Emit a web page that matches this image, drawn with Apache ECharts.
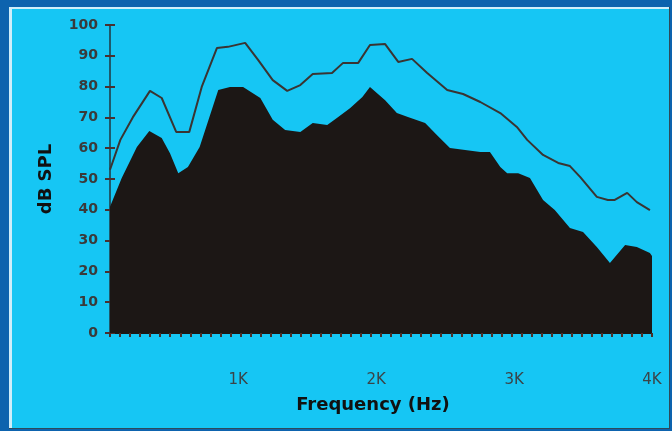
<!DOCTYPE html>
<html>
<head>
<meta charset="utf-8">
<script src="https://cdn.jsdelivr.net/npm/echarts@6/dist/echarts.min.js"></script>
<style>
  html, body { margin: 0; padding: 0; background: #0d63ae; }
  #chart { width: 672px; height: 431px; }
</style>
</head>
<body>
<div id="chart"></div>
<script>
// Frequency (Hz) and level (dB SPL)
const upperFreq = [70, 145, 235, 360, 445, 550, 645, 735, 845, 925, 1050, 1145, 1250, 1355, 1450, 1540, 1680, 1760, 1870, 1955, 2065, 2160, 2260, 2370, 2515, 2630, 2755, 2900, 3020, 3095, 3210, 3320, 3405, 3480, 3600, 3680, 3730, 3820, 3890, 3985];
const upperLevel = [53, 62.7, 70, 78.6, 76.3, 65.3, 65.3, 79.9, 92.5, 92.9, 94.2, 88.6, 82.1, 78.6, 80.5, 84.1, 84.4, 87.7, 87.7, 93.5, 93.8, 88, 89, 84.4, 78.9, 77.6, 75, 71.4, 66.9, 62.7, 57.8, 55.2, 54.2, 50.6, 44.2, 43.2, 43.2, 45.5, 42.5, 39.9];

const lowerFreq = [70, 155, 265, 355, 445, 505, 565, 635, 720, 855, 940, 1035, 1160, 1250, 1340, 1450, 1540, 1645, 1715, 1810, 1900, 1955, 2065, 2150, 2230, 2355, 2440, 2535, 2755, 2825, 2900, 2950, 3030, 3115, 3210, 3295, 3405, 3500, 3600, 3695, 3805, 3890, 3985, 4000];
const lowerLevel = [41, 50.3, 60.4, 65.6, 63.3, 58.4, 51.9, 53.9, 60.4, 78.9, 79.9, 79.9, 76.3, 69.2, 65.9, 65.3, 68.2, 67.5, 69.8, 73, 76.6, 79.9, 75.6, 71.4, 70.1, 68.2, 64.3, 60.1, 58.8, 58.8, 53.9, 51.9, 51.9, 50.3, 43.2, 39.9, 34.1, 32.8, 27.9, 22.7, 28.6, 27.9, 26, 25];

const xLabelValues = [1000, 2000, 3000, 4000];
const xMin = 70, xMax = 4000;
const yMin = 0, yMax = 100, yStep = 10;
const minorTickCount = 54;

const zip = (a, b) => a.map((v, i) => [v, b[i]]);

const chart = echarts.init(document.getElementById('chart'), null, { renderer: 'canvas' });
const BLUE = '#0d63ae';
const CYAN = '#16c6f4';
chart.setOption({
  backgroundColor: CYAN,
  animation: false,
  graphic: [
    { type: 'rect', shape: { x: 0, y: 0, width: 672, height: 7 }, style: { fill: BLUE } },
    { type: 'rect', shape: { x: 0, y: 0, width: 9, height: 431 }, style: { fill: BLUE } },
    { type: 'rect', shape: { x: 670, y: 0, width: 2, height: 431 }, style: { fill: BLUE } },
    { type: 'rect', shape: { x: 0, y: 429, width: 672, height: 2 }, style: { fill: BLUE } },
    { type: 'rect', shape: { x: 9, y: 7, width: 661, height: 2 }, style: { fill: '#cfeefa' } },
    { type: 'rect', shape: { x: 9, y: 7, width: 3, height: 422 }, style: { fill: '#cfeefa' } },
    { type: 'rect', shape: { x: 669, y: 7, width: 1, height: 422 }, style: { fill: '#2d4a5a' } },
    { type: 'rect', shape: { x: 9, y: 428, width: 661, height: 1 }, style: { fill: '#2d4a5a' } }
  ],
  grid: { left: 110, right: 20, top: 25, bottom: 98 },
  xAxis: [
    {
      type: 'value',
      min: xMin,
      max: xMax,
      name: 'Frequency (Hz)',
      nameLocation: 'middle',
      nameGap: 63,
      nameTextStyle: { fontFamily: 'DejaVu Sans', fontWeight: 'bold', fontSize: 18, color: '#111', padding: [0, 16, 0, 0] },
      axisLine: { show: true, onZero: false, lineStyle: { color: '#2a2a2a', width: 1 } },
      axisTick: { show: false },
      axisLabel: {
        customValues: xLabelValues,
        formatter: v => (v / 1000) + 'K',
        margin: 40,
        fontFamily: 'DejaVu Sans',
        fontSize: 15,
        color: '#3a4448'
      },
      splitLine: { show: false }
    },
    {
      type: 'value',
      position: 'bottom',
      offset: 0,
      min: 0,
      max: minorTickCount,
      interval: 1,
      axisLine: { show: true, onZero: false, lineStyle: { color: '#1c1715', width: 1 } },
      axisTick: { show: true, length: 4, lineStyle: { color: '#4a2f28', width: 2 } },
      axisLabel: { show: false },
      splitLine: { show: false }
    }
  ],
  yAxis: [
    {
      type: 'value',
      min: yMin, max: yMax, interval: yStep,
      name: 'dB SPL',
      nameLocation: 'middle',
      nameRotate: 90,
      nameGap: 55,
      nameTextStyle: { fontFamily: 'DejaVu Sans', fontWeight: 'bold', fontSize: 18, color: '#111' },
      axisLine: { show: true, lineStyle: { color: '#1d5a6c', width: 2 } },
      axisTick: { show: true, inside: false, length: 5, lineStyle: { color: '#4a3030', width: 2 } },
      axisLabel: { margin: 12, fontFamily: 'DejaVu Sans', fontWeight: 'bold', fontSize: 14, color: '#3a3a3a' },
      splitLine: { show: false }
    },
    {
      type: 'value',
      position: 'left',
      min: yMin, max: yMax, interval: yStep,
      axisLine: { show: false },
      axisTick: { show: true, inside: true, length: 5, lineStyle: { color: '#4a3030', width: 2 } },
      axisLabel: { show: false },
      splitLine: { show: false }
    }
  ],
  series: [
    {
      name: 'lower',
      type: 'line',
      data: zip(lowerFreq, lowerLevel),
      symbol: 'none',
      lineStyle: { width: 0 },
      areaStyle: { color: '#1c1715', opacity: 1 },
      itemStyle: { color: '#1c1715' },
      z: 3
    },
    {
      name: 'upper',
      type: 'line',
      data: zip(upperFreq, upperLevel),
      symbol: 'none',
      lineStyle: { color: '#3a3432', width: 2 },
      itemStyle: { color: '#3a3432' },
      z: 4
    },
    {
      name: 'tickAxis',
      type: 'line',
      xAxisIndex: 1,
      data: [],
      silent: true
    }
  ]
});
</script>
</body>
</html>
